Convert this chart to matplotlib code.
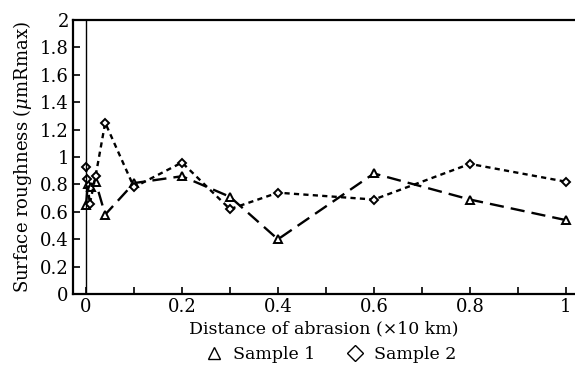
import matplotlib
matplotlib.use("Agg")
import matplotlib.pyplot as plt
from matplotlib.lines import Line2D
from matplotlib.ticker import MultipleLocator, FuncFormatter

# distance of abrasion (x10 km)
x1 = [0, 0.004, 0.01, 0.02, 0.04, 0.1, 0.2, 0.3, 0.4, 0.6, 0.8, 1.0]
s1 = [0.65, 0.80, 0.78, 0.82, 0.58, 0.81, 0.86, 0.71, 0.40, 0.88, 0.69, 0.54]
x2 = [0, 0.002, 0.008, 0.02, 0.04, 0.1, 0.2, 0.3, 0.4, 0.6, 0.8, 1.0]
s2 = [0.93, 0.84, 0.66, 0.86, 1.25, 0.78, 0.96, 0.62, 0.74, 0.69, 0.95, 0.82]

plt.rcParams["font.family"] = ["DejaVu Serif"]
plt.rcParams["mathtext.fontset"] = "dejavuserif"

fig = plt.figure(figsize=(5.75, 3.83), dpi=100)
ax = fig.add_axes([0.127, 0.232, 0.873, 0.716])

ax.plot(x1, s1, color="black", linestyle=(0, (6, 3)), linewidth=1.7,
        marker="^", markersize=5.5, markerfacecolor="white", markeredgecolor="black", markeredgewidth=1.4)
ax.plot(x2, s2, color="black", linestyle=(0, (2.2, 1.8)), linewidth=1.7,
        marker="D", markersize=4.5, markerfacecolor="white", markeredgecolor="black", markeredgewidth=1.4)

ax.axvline(0, color="black", linewidth=1.0)

ax.set_xlim(-0.027, 1.019)
ax.set_ylim(0, 2)
ax.xaxis.set_major_locator(MultipleLocator(0.2))
ax.xaxis.set_minor_locator(MultipleLocator(0.1))
ax.yaxis.set_major_locator(MultipleLocator(0.2))
fmt = FuncFormatter(lambda v, p: "%g" % round(v, 2))
ax.xaxis.set_major_formatter(fmt)
ax.yaxis.set_major_formatter(fmt)
ax.tick_params(direction="in", length=5, width=1.2, labelsize=13, top=False, right=False, pad=3)
ax.tick_params(which="minor", direction="in", length=5, width=1.2)
ax.spines["right"].set_visible(False)
for s in ["left", "bottom", "top"]:
    ax.spines[s].set_linewidth(1.6)

ax.set_xlabel("Distance of abrasion (×10 km)", fontsize=12.5, labelpad=3)
ax.set_ylabel(r"Surface roughness ($\mu$mRmax)", fontsize=13, labelpad=4)

handles = [Line2D([], [], linestyle="none", marker="^", markersize=9, markerfacecolor="white",
                  markeredgecolor="black", markeredgewidth=1.0),
           Line2D([], [], linestyle="none", marker="D", markersize=8, markerfacecolor="white",
                  markeredgecolor="black", markeredgewidth=1.0)]
fig.legend(handles, ["Sample 1", "Sample 2"], loc="center", bbox_to_anchor=(0.575, 0.075),
           ncol=2, frameon=False, fontsize=12.5, handlelength=1.0, handletextpad=0.6, columnspacing=1.8)

fig.savefig("out.png", dpi=100)
